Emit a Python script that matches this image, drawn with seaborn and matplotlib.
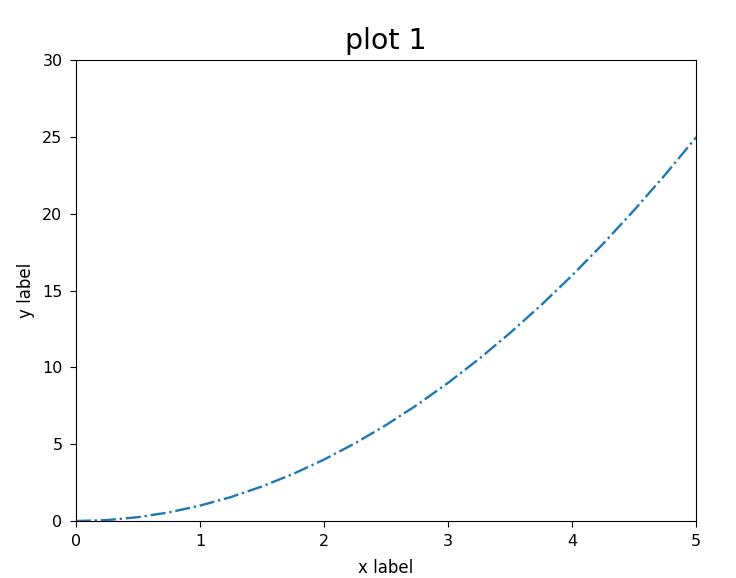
import numpy as np
import matplotlib
matplotlib.use("Agg")
import matplotlib.pyplot as plt
import seaborn as sns
import pandas as pd

# values
x_vals = [0.0, 0.25, 0.5, 0.75, 1.0, 1.25, 1.5, 1.75, 2.0, 2.25, 2.5,
          2.75, 3.0, 3.25, 3.5, 3.75, 4.0, 4.25, 4.5, 4.75, 5.0]
y_vals = [0.0, 0.06, 0.25, 0.56, 1.0, 1.56, 2.25, 3.06, 4.0, 5.06, 6.25,
          7.56, 9.0, 10.56, 12.25, 14.06, 16.0, 18.06, 20.25, 22.56, 25.0]

df = pd.DataFrame({"x": x_vals, "y": y_vals})

fig = plt.figure(figsize=(7.36, 5.78), dpi=100)
ax = fig.add_axes([0.103, 0.0986, 0.843, 0.797])
sns.lineplot(data=df, x="x", y="y", ax=ax, linestyle="-.", color="#1f77b4",
             linewidth=1.7)
ax.set_xlim(0, 5)
ax.set_ylim(0, 30)
ax.set_title("plot 1", fontsize=20.5, pad=8)
ax.set_xlabel("x label", fontsize=12, labelpad=7)
ax.set_ylabel("y label", fontsize=12, labelpad=5)
ax.tick_params(labelsize=11.5, length=4.5, pad=5)

fig.savefig("out.png", dpi=100)
